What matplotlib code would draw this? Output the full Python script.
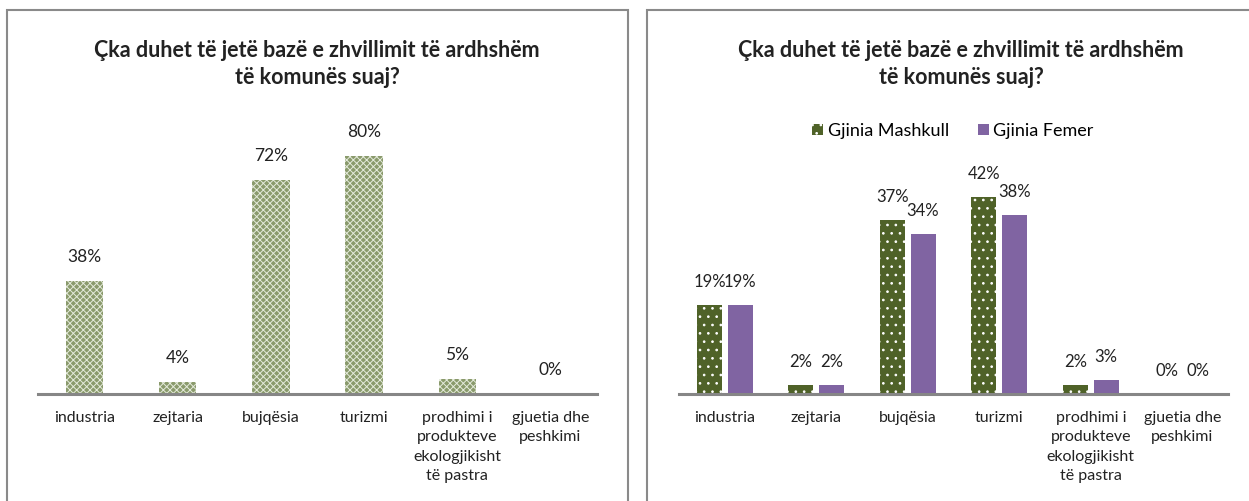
import matplotlib
matplotlib.use('Agg')
import matplotlib.pyplot as plt
import numpy as np
from matplotlib.patches import Rectangle

plt.rcParams['font.family'] = ['Lato', 'DejaVu Sans']
plt.rcParams['hatch.linewidth'] = 0.7

TITLE = 'Çka duhet të jetë bazë e zhvillimit të ardhshëm\ntë komunës suaj?'
CATEGORIES = ['industria', 'zejtaria', 'bujqësia', 'turizmi',
              'prodhimi i\nprodukteve\nekologjikisht\ntë pastra', 'gjuetia dhe\npeshkimi']
TOTAL = [38, 4, 72, 80, 5, 0]
MALE = [19, 2, 37, 42, 2, 0]
FEMALE = [19, 2, 34, 38, 3, 0]
SERIES = ['Gjinia Mashkull', 'Gjinia Femer']

W, H = 1249, 501
fig = plt.figure(figsize=(W / 100, H / 100), dpi=100)


def px_box(x0, x1, y_top, y_base):
    return [x0 / W, 1 - y_base / H, (x1 - x0) / W, (y_base - y_top) / H]


def style_axis(ax):
    for s in ['top', 'right', 'left']:
        ax.spines[s].set_visible(False)
    ax.spines['bottom'].set_color('#868686')
    ax.spines['bottom'].set_linewidth(2.2)
    ax.set_yticks([])
    ax.set_xticks(range(len(CATEGORIES)))
    ax.set_xticklabels(CATEGORIES, fontsize=11.5, color='#222222', linespacing=1.5)
    ax.tick_params(axis='x', length=0, pad=12)
    ax.set_xlim(-0.5, len(CATEGORIES) - 0.5)


# panel borders
for x0, x1 in [(7, 628), (647, 1300)]:
    fig.patches.append(Rectangle((x0 / W, -0.2), (x1 - x0) / W, 1.2 - 10 / H,
                                 transform=fig.transFigure, fill=False,
                                 edgecolor='#8a8a8a', linewidth=1.5))

# left chart
ax1 = fig.add_axes(px_box(38, 597, 110, 394))
x = np.arange(len(CATEGORIES))
ax1.bar(x, TOTAL, width=0.4, color='#8a9a6c', edgecolor='#e4eadb',
        hatch='xxxxx', linewidth=0)
ax1.set_ylim(0, (394 - 110) / 2.97)
for xi, v in zip(x, TOTAL):
    ax1.text(xi, v + 24 / 2.97, f'{v}%', ha='center', va='center', fontsize=12.5, color='#222222')
style_axis(ax1)
fig.text(317 / W, 1 - 64 / H, TITLE, ha='center', va='center', fontsize=15.5,
         fontweight='bold', color='#222222', linespacing=1.35)

# right chart
ax2 = fig.add_axes(px_box(679, 1228, 160, 394))
off, bw = 0.167, 0.273
ax2.bar(x - off, MALE, width=bw, color='#4f6228', edgecolor='white', hatch='..',
        linewidth=0, label=SERIES[0])
ax2.bar(x + off, FEMALE, width=bw, color='#8064a2', linewidth=0, label=SERIES[1])
ax2.set_ylim(0, (394 - 160) / 4.7)
for xi, v in zip(x, MALE):
    ax2.text(xi - off, v + 23 / 4.7, f'{v}%', ha='center', va='center', fontsize=12, color='#222222')
for xi, v in zip(x, FEMALE):
    ax2.text(xi + off, v + 23 / 4.7, f'{v}%', ha='center', va='center', fontsize=12, color='#222222')
style_axis(ax2)
fig.text(961 / W, 1 - 64 / H, TITLE, ha='center', va='center', fontsize=15.5,
         fontweight='bold', color='#222222', linespacing=1.35)
fig.legend(loc='center', bbox_to_anchor=(953 / W, 1 - 131 / H), ncol=2, frameon=False,
           fontsize=13, handlelength=0.6, handleheight=0.6, handletextpad=0.25,
           columnspacing=1.6)

fig.savefig('out.png', dpi=100)
